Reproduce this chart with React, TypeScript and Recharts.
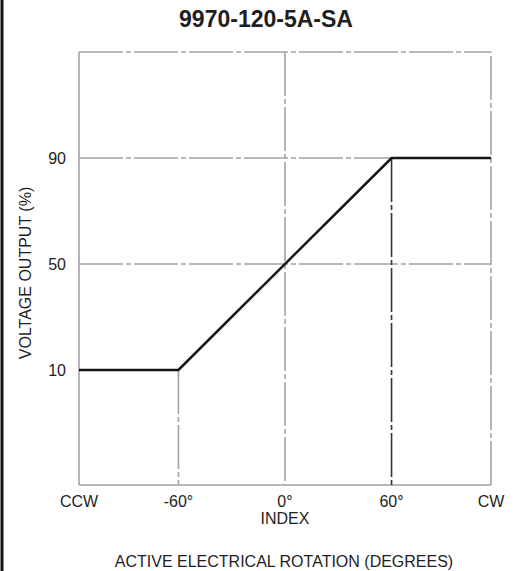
import React from "react";
import { LineChart, Line, XAxis, YAxis, ReferenceLine } from "recharts";

// ---- data ----
const curveX = [-116, -60, 60, 116];
const curveY = [10, 10, 90, 90];
const xTickValues = [-116, -60, 0, 60, 116];
const xTickLabels = ["CCW", "-60°", "0°", "60°", "CW"];
const xTickSubLabels = ["", "", "INDEX", "", ""];
const yTickValues = [10, 50, 90];
const xDomain: [number, number] = [-116, 116];
const yDomain: [number, number] = [-33.4, 130];
const title = "9970-120-5A-SA";
const xAxisTitle = "ACTIVE ELECTRICAL ROTATION (DEGREES)";
const yAxisTitle = "VOLTAGE OUTPUT (%)";

const data = curveX.map((x, i) => ({ x, y: curveY[i] }));

const FONT = "'Liberation Sans', Arial, Helvetica, sans-serif";
const GRAY = "#a2a2a2";
const DASH = "44 3 5 3";
const TEXT = "#1e1e1e";

const XTick = (props: any) => {
  const { x, y, index } = props;
  const sub = xTickSubLabels[index];
  return (
    <g>
      <text x={x} y={y + 22} textAnchor="middle" fontFamily={FONT} fontSize={16} fill={TEXT}>
        {xTickLabels[index]}
      </text>
      {sub ? (
        <text x={x} y={y + 39} textAnchor="middle" fontFamily={FONT} fontSize={16} fill={TEXT}>
          {sub}
        </text>
      ) : null}
    </g>
  );
};

const YTick = (props: any) => {
  const { x, y, payload } = props;
  return (
    <text x={x - 13} y={y + 6} textAnchor="end" fontFamily={FONT} fontSize={16} fill={TEXT}>
      {payload.value}
    </text>
  );
};

export default function App() {
  const [x0, x1] = xDomain;
  const [y0, y1] = yDomain;
  return (
    <div style={{ position: "absolute", left: 0, top: 0, width: 522, height: 571, background: "#fff" }}>
      <LineChart
        width={522}
        height={571}
        data={data}
        margin={{ top: 52, right: 31, bottom: 0, left: 0 }}
      >
        <XAxis
          type="number"
          dataKey="x"
          domain={xDomain}
          ticks={xTickValues}
          interval={0}
          height={86}
          axisLine={false}
          tickLine={false}
          tickSize={0}
          tickMargin={0}
          tick={<XTick />}
          allowDataOverflow
        />
        <YAxis
          type="number"
          domain={yDomain}
          ticks={yTickValues}
          interval={0}
          width={79}
          axisLine={false}
          tickLine={false}
          tickSize={0}
          tickMargin={0}
          tick={<YTick />}
          allowDataOverflow
        />
        {/* frame */}
        <ReferenceLine segment={[{ x: x0, y: y1 }, { x: x1, y: y1 }]} stroke={GRAY} strokeWidth={1.6} strokeDasharray={DASH} />
        <ReferenceLine segment={[{ x: x1, y: y0 }, { x: x1, y: y1 }]} stroke={GRAY} strokeWidth={1.6} strokeDasharray={DASH} />
        <ReferenceLine segment={[{ x: x0, y: y0 }, { x: x0, y: y1 }]} stroke={GRAY} strokeWidth={1.6} />
        <ReferenceLine segment={[{ x: x0, y: y0 }, { x: x1, y: y0 }]} stroke={GRAY} strokeWidth={1.6} />
        {/* grid */}
        <ReferenceLine segment={[{ x: x0, y: 90 }, { x: 60, y: 90 }]} stroke={GRAY} strokeWidth={1.6} strokeDasharray={DASH} />
        <ReferenceLine segment={[{ x: x0, y: 50 }, { x: x1, y: 50 }]} stroke={GRAY} strokeWidth={1.6} strokeDasharray={DASH} />
        <ReferenceLine segment={[{ x: 0, y: y1 }, { x: 0, y: y0 }]} stroke={GRAY} strokeWidth={1.6} strokeDasharray={DASH} />
        <ReferenceLine segment={[{ x: -60, y: 10 }, { x: -60, y: y0 }]} stroke={GRAY} strokeWidth={1.6} strokeDasharray={DASH} />
        <ReferenceLine segment={[{ x: 60, y: 90 }, { x: 60, y: y0 }]} stroke="#333" strokeWidth={1.6} strokeDasharray={DASH} />
        <Line
          type="linear"
          dataKey="y"
          stroke="#161616"
          strokeWidth={2.5}
          dot={false}
          activeDot={false}
          isAnimationActive={false}
        />
      </LineChart>
      <svg
        width={522}
        height={571}
        style={{ position: "absolute", left: 0, top: 0, pointerEvents: "none" }}
      >
        <rect x={0.5} y={0} width={3} height={571} fill="#111" />
        <text x={266} y={27} textAnchor="middle" fontFamily={FONT} fontSize={23} fontWeight="bold" fill={TEXT}>
          {title}
        </text>
        <text x={284} y={567} textAnchor="middle" fontFamily={FONT} fontSize={16} fill={TEXT}>
          {xAxisTitle}
        </text>
        <text
          x={31}
          y={273}
          textAnchor="middle"
          fontFamily={FONT}
          fontSize={16}
          fill={TEXT}
          transform="rotate(-90 31 273)"
        >
          {yAxisTitle}
        </text>
      </svg>
    </div>
  );
}
